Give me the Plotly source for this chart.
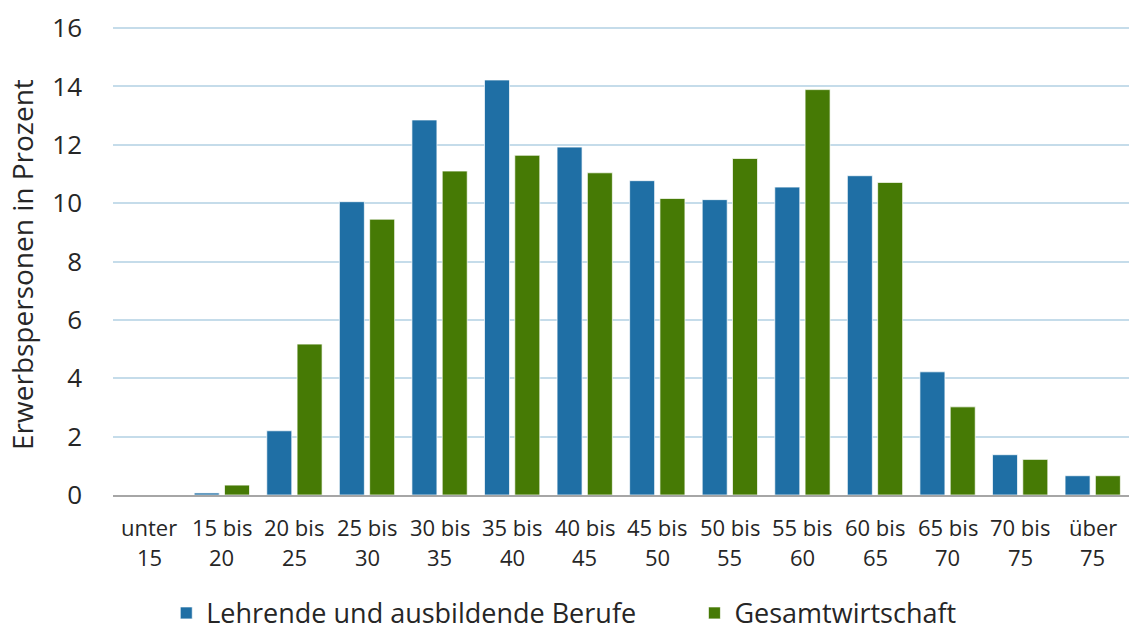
import plotly.graph_objects as go

categories = ["unter 15", "15 bis 20", "20 bis 25", "25 bis 30", "30 bis 35", "35 bis 40",
              "40 bis 45", "45 bis 50", "50 bis 55", "55 bis 60", "60 bis 65", "65 bis 70",
              "70 bis 75", "über 75"]
label_top = ["unter", "15 bis", "20 bis", "25 bis", "30 bis", "35 bis", "40 bis", "45 bis",
             "50 bis", "55 bis", "60 bis", "65 bis", "70 bis", "über"]
label_bottom = ["15", "20", "25", "30", "35", "40", "45", "50", "55", "60", "65", "70", "75", "75"]

lehrende = [0.0, 0.07, 2.2, 10.05, 12.85, 14.22, 11.92, 10.77, 10.12, 10.55, 10.94, 4.22, 1.38, 0.66]
gesamt = [0.0, 0.34, 5.17, 9.45, 11.1, 11.64, 11.04, 10.16, 11.53, 13.89, 10.71, 3.02, 1.22, 0.66]

series_names = ["Lehrende und ausbildende Berufe", "Gesamtwirtschaft"]
colors = ["#1f6fa5", "#467a05"]
legend_ids = ["legend", "legend2"]

y_ticks = [0, 2, 4, 6, 8, 10, 12, 14, 16]
y_title = "Erwerbspersonen in Prozent"

FONT = "Open Sans"
TXT = "#262626"

fig = go.Figure()
for name, vals, col, lg in zip(series_names, [lehrende, gesamt], colors, legend_ids):
    fig.add_trace(go.Bar(
        x=categories, y=vals, name=name, legend=lg,
        marker=dict(color=col, line=dict(color="rgba(255,255,255,0.7)", width=1)),
    ))

annotations = []
for cat, top, bot in zip(categories, label_top, label_bottom):
    annotations.append(dict(x=cat, xref="x", y=-0.068, yref="paper", text=top,
                            showarrow=False, yanchor="middle", xanchor="center",
                            font=dict(family=FONT, size=22, color=TXT)))
    annotations.append(dict(x=cat, xref="x", y=-0.132, yref="paper", text=bot,
                            showarrow=False, yanchor="middle", xanchor="center",
                            font=dict(family=FONT, size=22, color=TXT)))
annotations.append(dict(x=-0.0896, xref="paper", y=0.4925, yref="paper", text=y_title,
                        textangle=-90, showarrow=False, xanchor="center", yanchor="middle",
                        font=dict(family=FONT, size=28, color=TXT)))

legend_style = dict(orientation="h", yref="container", y=0.031, yanchor="middle",
                    xref="container", xanchor="left",
                    font=dict(family=FONT, size=27, color=TXT),
                    bgcolor="rgba(0,0,0,0)")

fig.update_layout(
    width=1131, height=633,
    margin=dict(l=113, r=2, t=26, b=138, autoexpand=False),
    paper_bgcolor="white", plot_bgcolor="white",
    barmode="group", bargap=0.165, bargroupgap=0.175,
    font=dict(family=FONT, color=TXT),
    showlegend=True,
    legend=dict(x=0.147, **legend_style),
    legend2=dict(x=0.614, **legend_style),
    xaxis=dict(showticklabels=False, showline=True, linecolor="#a6a6a6", linewidth=1.5,
               showgrid=False, ticks=""),
    yaxis=dict(range=[0, 16.07], tickvals=y_ticks, showgrid=True, gridcolor="#c5dcea",
               gridwidth=1.5, zeroline=False, showline=False,
               tickfont=dict(family=FONT, size=26, color=TXT),
               ticklabelstandoff=30),
    annotations=annotations,
)

fig.write_html("out.html", config={"displayModeBar": False},
               post_script="document.body.style.margin='0';")
